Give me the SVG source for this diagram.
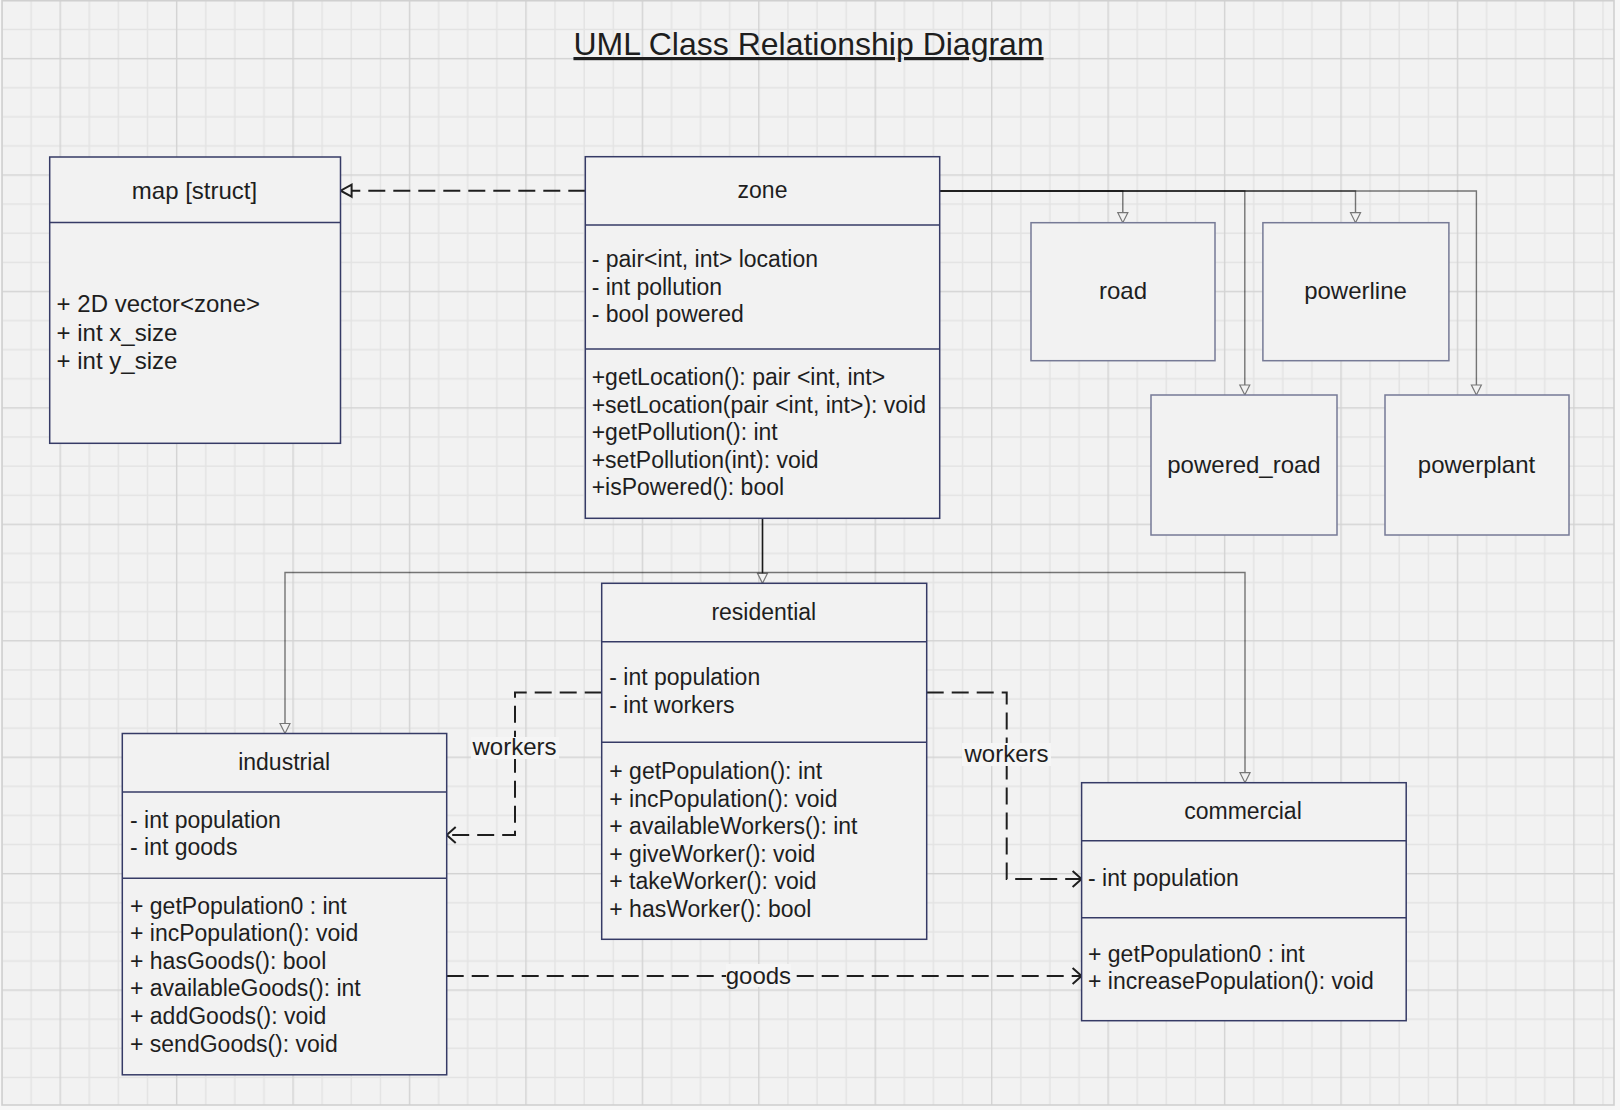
<svg xmlns="http://www.w3.org/2000/svg" width="1620" height="1110" viewBox="0 0 1620 1110">
<style>
.t{font-family:"Liberation Sans",Arial,Helvetica,sans-serif;fill:#1e1e1e}
.h{font-size:23px;text-anchor:middle}
.m{font-size:23px}
.l{font-size:24px}
.c{text-anchor:middle}
.box{fill:#f2f2f2;stroke:#363b66;stroke-width:1.5}
.sbox{fill:#f2f2f2;stroke:#767a96;stroke-width:1.5}
.div{stroke:#363b66;stroke-width:1.5;fill:none}
.inh{fill:none;stroke:#000;stroke-opacity:.52;stroke-width:1.4;marker-end:url(#tri)}
.dep{fill:none;stroke:#1e1e1e;stroke-width:2;stroke-dasharray:17 8}
.lbg{fill:#f5f5f5}
</style>
<defs>
<pattern id="grid" patternUnits="userSpaceOnUse" x="59.5" y="57.9" width="116.44" height="116.44">
<rect width="116.44" height="116.44" fill="#f2f2f2"/>
<rect x="29.11" y="0" width="1.4" height="116.44" fill="#e3e3e3"/>
<rect x="58.22" y="0" width="1.4" height="116.44" fill="#e3e3e3"/>
<rect x="87.33" y="0" width="1.4" height="116.44" fill="#e3e3e3"/>
<rect x="0" y="29.11" width="116.44" height="1.4" fill="#e3e3e3"/>
<rect x="0" y="58.22" width="116.44" height="1.4" fill="#e3e3e3"/>
<rect x="0" y="87.33" width="116.44" height="1.4" fill="#e3e3e3"/>
<rect x="0" y="0" width="1.4" height="116.44" fill="#d3d3d3"/>
<rect x="0" y="0" width="116.44" height="1.4" fill="#d3d3d3"/>
</pattern>
<marker id="tri" markerUnits="userSpaceOnUse" markerWidth="14" markerHeight="14" refX="11" refY="6" orient="auto" overflow="visible">
<path d="M1,1 L11,6 L1,11 Z" fill="#f2f2f2" stroke="#777" stroke-width="1.2"/>
</marker>
<marker id="real" markerUnits="userSpaceOnUse" markerWidth="16" markerHeight="16" refX="12" refY="6" orient="auto" overflow="visible">
<path d="M1,0 L12,6 L1,12 Z" fill="#f2f2f2" stroke="#1e1e1e" stroke-width="2"/>
</marker>
<marker id="open" markerUnits="userSpaceOnUse" markerWidth="14" markerHeight="20" refX="11" refY="10" orient="auto" overflow="visible">
<path d="M2,2 L11,10 L2,18" fill="none" stroke="#1e1e1e" stroke-width="2"/>
</marker>
</defs>

<rect width="1620" height="1110" fill="#f7f7f7"/>
<rect x="2" y="0.7" width="1612" height="1104.3" fill="url(#grid)"/>
<rect x="2" y="0.7" width="1612" height="1104.3" fill="none" stroke="#d0d0d0" stroke-width="1.6"/>

<text class="t" x="808.5" y="55" font-size="32" text-anchor="middle" text-decoration="underline">UML Class Relationship Diagram</text>

<g id="connectors">
<path class="dep" d="M585.3,190.7 H340.6" marker-end="url(#real)"/>
<path class="inh" d="M939.7,191 H1122.8 V222.7"/>
<path class="inh" d="M939.7,191 H1244.8 V395"/>
<path class="inh" d="M939.7,191 H1355.5 V222.7"/>
<path class="inh" d="M939.7,191 H1476.4 V395"/>
<path class="inh" d="M762.5,518.3 V583.3"/>
<path class="inh" d="M762.5,518.3 V572.5 H285 V733.5"/>
<path class="inh" d="M762.5,518.3 V572.5 H1245 V782.7"/>
<path class="dep" d="M601.7,692.5 H515 V835 H446.7" marker-end="url(#open)"/>
<path class="dep" d="M926.7,692.5 H1006.7 V879 H1081.6" marker-end="url(#open)"/>
<path class="dep" d="M446.7,976 H1081.6" marker-end="url(#open)"/>
<rect class="lbg" x="471" y="737" width="88" height="22"/>
<text class="t l c" x="514.5" y="755.3">workers</text>
<rect class="lbg" x="962" y="743" width="89" height="23"/>
<text class="t l c" x="1006.5" y="762">workers</text>
<rect class="lbg" x="726" y="964" width="65" height="23"/>
<text class="t l c" x="758.4" y="984">goods</text>
</g>

<g id="map">
<rect class="box" x="49.7" y="157" width="290.8" height="286.3"/>
<line class="div" x1="49.7" y1="222.5" x2="340.5" y2="222.5"/>
<text class="t l c" x="194.5" y="198.5">map [struct]</text>
<text class="t l" x="56.6" y="311.7">+ 2D vector&lt;zone&gt;</text>
<text class="t l" x="56.6" y="340.5">+ int x_size</text>
<text class="t l" x="56.6" y="369.3">+ int y_size</text>
</g>

<g id="zone">
<rect class="box" x="585.3" y="156.7" width="354.4" height="361.6"/>
<line class="div" x1="585.3" y1="225" x2="939.7" y2="225"/>
<line class="div" x1="585.3" y1="349" x2="939.7" y2="349"/>
<text class="t h" x="762.5" y="198.3">zone</text>
<text class="t m" x="591.7" y="267.3">- pair&lt;int, int&gt; location</text>
<text class="t m" x="591.7" y="294.8">- int pollution</text>
<text class="t m" x="591.7" y="322.3">- bool powered</text>
<text class="t m" x="591.7" y="385">+getLocation(): pair &lt;int, int&gt;</text>
<text class="t m" x="591.7" y="412.6">+setLocation(pair &lt;int, int&gt;): void</text>
<text class="t m" x="591.7" y="440.2">+getPollution(): int</text>
<text class="t m" x="591.7" y="467.8">+setPollution(int): void</text>
<text class="t m" x="591.7" y="495.4">+isPowered(): bool</text>
</g>

<g id="road">
<rect class="sbox" x="1031" y="222.7" width="184" height="138"/>
<text class="t l c" x="1123" y="299.3">road</text>
</g>

<g id="powerline">
<rect class="sbox" x="1262.9" y="222.7" width="186" height="138"/>
<text class="t l c" x="1355.5" y="299.3">powerline</text>
</g>

<g id="powered_road">
<rect class="sbox" x="1151" y="395" width="186" height="140"/>
<text class="t l c" x="1244" y="472.7">powered_road</text>
</g>

<g id="powerplant">
<rect class="sbox" x="1385" y="395" width="184" height="140"/>
<text class="t l c" x="1476.5" y="472.7">powerplant</text>
</g>

<g id="residential">
<rect class="box" x="601.7" y="583.3" width="325" height="356"/>
<line class="div" x1="601.7" y1="641.7" x2="926.7" y2="641.7"/>
<line class="div" x1="601.7" y1="742.3" x2="926.7" y2="742.3"/>
<text class="t h" x="763.8" y="620">residential</text>
<text class="t m" x="609.3" y="685">- int population</text>
<text class="t m" x="609.3" y="713">- int workers</text>
<text class="t m" x="609.3" y="779">+ getPopulation(): int</text>
<text class="t m" x="609.3" y="806.6">+ incPopulation(): void</text>
<text class="t m" x="609.3" y="834.2">+ availableWorkers(): int</text>
<text class="t m" x="609.3" y="861.8">+ giveWorker(): void</text>
<text class="t m" x="609.3" y="889.4">+ takeWorker(): void</text>
<text class="t m" x="609.3" y="917">+ hasWorker(): bool</text>
</g>

<g id="industrial">
<rect class="box" x="122.3" y="733.5" width="324.4" height="341.3"/>
<line class="div" x1="122.3" y1="792.1" x2="446.7" y2="792.1"/>
<line class="div" x1="122.3" y1="878.2" x2="446.7" y2="878.2"/>
<text class="t h" x="284.2" y="770">industrial</text>
<text class="t m" x="130" y="827.5">- int population</text>
<text class="t m" x="130" y="855">- int goods</text>
<text class="t m" x="130" y="913.6">+ getPopulation0 : int</text>
<text class="t m" x="130" y="941.2">+ incPopulation(): void</text>
<text class="t m" x="130" y="968.8">+ hasGoods(): bool</text>
<text class="t m" x="130" y="996.4">+ availableGoods(): int</text>
<text class="t m" x="130" y="1024">+ addGoods(): void</text>
<text class="t m" x="130" y="1051.6">+ sendGoods(): void</text>
</g>

<g id="commercial">
<rect class="box" x="1081.6" y="782.7" width="324.6" height="238"/>
<line class="div" x1="1081.6" y1="840.7" x2="1406.2" y2="840.7"/>
<line class="div" x1="1081.6" y1="917.7" x2="1406.2" y2="917.7"/>
<text class="t h" x="1243" y="819.3">commercial</text>
<text class="t m" x="1088" y="886">- int population</text>
<text class="t m" x="1088" y="962.3">+ getPopulation0 : int</text>
<text class="t m" x="1088" y="989.3">+ increasePopulation(): void</text>
</g>
</svg>
